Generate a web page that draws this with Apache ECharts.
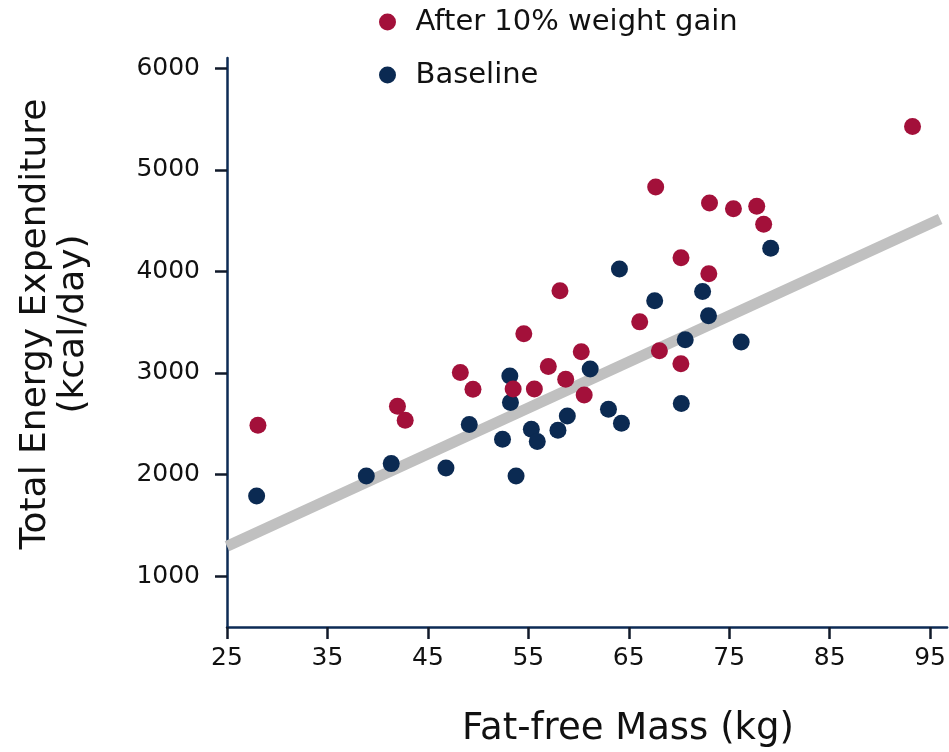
<!DOCTYPE html>
<html>
<head>
<meta charset="utf-8">
<title>Total Energy Expenditure vs Fat-free Mass</title>
<script src="https://cdn.jsdelivr.net/npm/echarts@6/dist/echarts.min.js"></script>
<style>
  html, body { margin: 0; padding: 0; background: #ffffff; }
  #chart { width: 949px; height: 752px; }
</style>
</head>
<body>
<div id="chart"></div>
<script>
// Fat-free mass (kg) and total energy expenditure (kcal/day)
const baselineFFM = [27.95, 38.87, 41.35, 46.8, 49.12, 52.43, 53.16, 53.22, 53.78, 55.3, 55.89, 57.95,
                     58.88, 61.16, 62.98, 64.27, 64.07, 67.58, 70.62, 70.23, 72.35, 72.94, 76.19, 79.13];
const baselineTEE = [1789, 1986, 2108, 2065, 2493, 2348, 2971, 2709, 1986, 2446, 2325, 2436,
                     2577, 3040, 2643, 2505, 4023, 3711, 3326, 2700, 3803, 3563, 3306, 4227];

const gainFFM = [28.08, 41.97, 42.74, 48.23, 49.49, 54.55, 53.49, 55.6, 56.99, 58.15, 58.72, 60.27,
                 60.56, 66.09, 68.05, 70.19, 67.68, 70.2, 73.04, 75.42, 77.74, 78.43, 72.97, 93.25];
const gainTEE = [2485, 2673, 2535, 3005, 2840, 3385, 2843, 2843, 3064, 3809, 2939, 3208,
                 2784, 3503, 3218, 3090, 4830, 4134, 4673, 4617, 4640, 4463, 3976, 5425];

// Regression line end points
const fitFFM = [25, 96];
const fitTEE = [1294, 4515];

const xTicks = [25, 35, 45, 55, 65, 75, 85, 95];
const yTicks = [1000, 2000, 3000, 4000, 5000, 6000];

const seriesNames = ['After 10% weight gain', 'Baseline'];

const zip = (a, b) => a.map((v, i) => [v, b[i]]);

const FONT = "'DejaVu Sans', Verdana, sans-serif";
const RED = '#a3103a';
const NAVY = '#0b2a52';
const AXIS = '#0d2b55';

const chart = echarts.init(document.getElementById('chart'), null, { renderer: 'canvas' });

chart.setOption({
  animation: false,
  backgroundColor: '#ffffff',
  grid: { left: 227, right: 0, top: 58, bottom: 125 },
  legend: {
    data: seriesNames,
    orient: 'vertical',
    left: 374,
    top: 2,
    icon: 'circle',
    itemWidth: 46,
    itemHeight: 17,
    itemGap: 23,
    textStyle: { fontFamily: FONT, fontSize: 29, color: '#111111', lineHeight: 30 }
  },
  xAxis: {
    type: 'value',
    min: 25,
    max: 96.7,
    splitLine: { show: false },
    axisLine: { lineStyle: { color: AXIS, width: 2.5 } },
    axisTick: { customValues: xTicks, length: 12, lineStyle: { color: '#111a2a', width: 2.5 } },
    axisLabel: { customValues: xTicks, margin: 19, fontFamily: FONT, fontSize: 25, color: '#111111',
                 formatter: v => String(v) }
  },
  yAxis: {
    type: 'value',
    min: 500,
    max: 6100,
    splitLine: { show: false },
    axisLine: { lineStyle: { color: AXIS, width: 2.5 } },
    axisTick: { customValues: yTicks, length: 12, lineStyle: { color: '#111a2a', width: 2.5 } },
    axisLabel: { customValues: yTicks, margin: 27, fontFamily: FONT, fontSize: 25, color: '#111111',
                 formatter: v => String(v) }
  },
  graphic: [
    {
      type: 'text',
      x: 55,
      y: 324,
      rotation: Math.PI / 2,
      style: {
        text: 'Total Energy Expenditure\n(kcal/day)',
        font: "36px 'DejaVu Sans', Verdana, sans-serif",
        fill: '#111111',
        align: 'center',
        verticalAlign: 'middle',
        lineHeight: 38
      }
    },
    {
      type: 'text',
      x: 628,
      y: 729,
      style: {
        text: 'Fat-free Mass (kg)',
        font: "37px 'DejaVu Sans', Verdana, sans-serif",
        fill: '#111111',
        align: 'center',
        verticalAlign: 'middle'
      }
    }
  ],
  series: [
    {
      name: 'fit',
      type: 'line',
      data: zip(fitFFM, fitTEE),
      symbol: 'none',
      silent: true,
      z: 1,
      lineStyle: { color: '#c0c0c0', width: 11, cap: 'butt' }
    },
    {
      name: seriesNames[1],
      type: 'scatter',
      data: zip(baselineFFM, baselineTEE),
      symbolSize: 17,
      itemStyle: { color: NAVY, opacity: 1 },
      z: 2
    },
    {
      name: seriesNames[0],
      type: 'scatter',
      data: zip(gainFFM, gainTEE),
      symbolSize: 17,
      itemStyle: { color: RED, opacity: 1 },
      z: 3
    }
  ]
});
</script>
</body>
</html>
